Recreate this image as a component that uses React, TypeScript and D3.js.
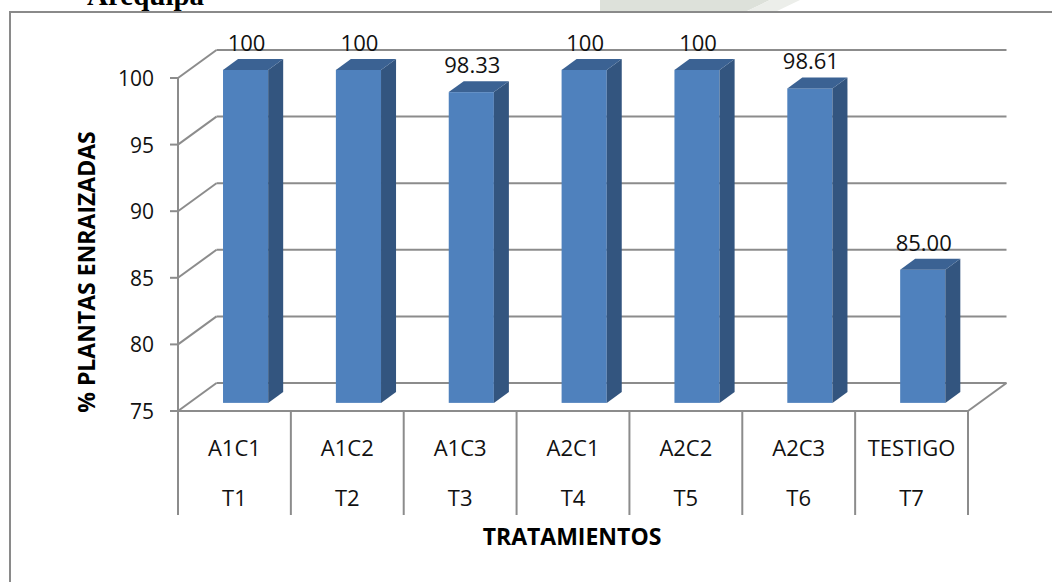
import * as d3 from "d3";

// chart values
const categories = ["A1C1", "A1C2", "A1C3", "A2C1", "A2C2", "A2C3", "TESTIGO"];
const treatments = ["T1", "T2", "T3", "T4", "T5", "T6", "T7"];
const values = [100, 100, 98.33, 100, 100, 98.61, 85.0];
const valueLabels = ["100", "100", "98.33", "100", "100", "98.61", "85.00"];
const yTicks = [75, 80, 85, 90, 95, 100];

const width = 1052;
const height = 582;

export default function App() {
  const left = 178;
  const right = 968;
  const floorY = 411;
  const depthX = 38.5;
  const depthY = -28;
  const bottomY = 515;

  const x = d3
    .scaleBand<string>()
    .domain(categories)
    .range([left, right])
    .paddingInner(0.6)
    .paddingOuter(0.3);
  const step = x.step();

  const y = d3.scaleLinear().domain([75, 100]).range([floorY, 78]);

  // bar sits a bit inside the depth
  const fx = depthX * 0.29;
  const fy = depthY * 0.29;
  const sx = depthX * 0.39;
  const sy = depthY * 0.39;
  const bw = x.bandwidth();

  const grid = "#8c8c8c";
  const font = "'Open Sans', 'Liberation Sans', sans-serif";

  return (
    <svg
      width={width}
      height={height}
      style={{ position: "absolute", left: 0, top: 0, background: "#fff" }}
    >
      {/* faint watermark at top */}
      <path d="M600,0 L770,0 L745,12 L600,12 Z" fill="#dde1da" />
      <path d="M770,0 L800,0 L775,12 L745,12 Z" fill="#eceeea" />

      {/* cropped title */}
      <text
        x={87}
        y={5}
        fontFamily="'Liberation Serif', 'Times New Roman', serif"
        fontWeight="bold"
        fontSize={29}
        fill="#000"
      >
        Arequipa
      </text>

      {/* chart frame */}
      <rect x={10} y={12} width={1100} height={620} fill="#fff" stroke="#8a8a8a" strokeWidth={2} />

      {/* gridlines: side wall diagonals + back wall */}
      {yTicks.map((t) => (
        <g key={t}>
          <line x1={left} y1={y(t)} x2={left + depthX} y2={y(t) + depthY} stroke={grid} strokeWidth={2} />
          <line
            x1={left + depthX}
            y1={y(t) + depthY}
            x2={right + depthX}
            y2={y(t) + depthY}
            stroke={grid}
            strokeWidth={2}
          />
          <line x1={left - 8} y1={y(t)} x2={left} y2={y(t)} stroke={grid} strokeWidth={2} />
          <text
            x={154}
            y={y(t)}
            dy="0.38em"
            textAnchor="end"
            fontFamily={font}
            fontSize={21}
            fill="#111"
          >
            {t}
          </text>
        </g>
      ))}

      {/* floor */}
      <line x1={left} y1={floorY} x2={right} y2={floorY} stroke={grid} strokeWidth={2} />
      <line x1={right} y1={floorY} x2={right + depthX} y2={floorY + depthY} stroke={grid} strokeWidth={2} />
      <line x1={left} y1={y(100)} x2={left} y2={bottomY} stroke={grid} strokeWidth={2} />

      {/* category dividers */}
      {d3.range(1, categories.length + 1).map((i) => (
        <line
          key={i}
          x1={left + i * step}
          y1={floorY}
          x2={left + i * step}
          y2={bottomY}
          stroke={grid}
          strokeWidth={2}
        />
      ))}

      {/* bars */}
      {categories.map((c, i) => {
        const x0 = (x(c) as number) + fx;
        const top = y(values[i]) + fy;
        const bot = y(75) + fy;
        return (
          <g key={c}>
            <rect x={x0} y={top} width={bw} height={bot - top} fill="#4f81bd" />
            <polygon
              points={`${x0 + bw},${top} ${x0 + bw + sx},${top + sy} ${x0 + bw + sx},${bot + sy} ${x0 + bw},${bot}`}
              fill="#33557f"
            />
            <polygon
              points={`${x0},${top} ${x0 + sx},${top + sy} ${x0 + bw + sx},${top + sy} ${x0 + bw},${top}`}
              fill="#3b6293"
            />
            <text
              x={x0 + bw / 2 + 1}
              y={top + sy - 8}
              textAnchor="middle"
              fontFamily={font}
              fontSize={22}
              fill="#111"
            >
              {valueLabels[i]}
            </text>
          </g>
        );
      })}

      {/* category labels */}
      {categories.map((c, i) => {
        const cx = left + step * (i + 0.5);
        return (
          <g key={c}>
            <text x={cx} y={456} textAnchor="middle" fontFamily={font} fontSize={22} fill="#111">
              {c}
            </text>
            <text x={cx} y={506} textAnchor="middle" fontFamily={font} fontSize={22} fill="#111">
              {treatments[i]}
            </text>
          </g>
        );
      })}

      {/* axis titles */}
      <text
        transform="translate(95,272) rotate(-90)"
        textAnchor="middle"
        fontFamily={font}
        fontWeight="bold"
        fontSize={23}
        fill="#000"
      >
        % PLANTAS ENRAIZADAS
      </text>
      <text x={572} y={545} textAnchor="middle" fontFamily={font} fontWeight="bold" fontSize={23} fill="#000">
        TRATAMIENTOS
      </text>
    </svg>
  );
}
